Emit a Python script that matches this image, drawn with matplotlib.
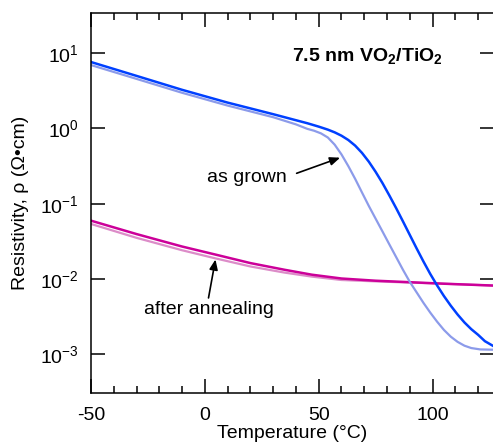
import matplotlib
matplotlib.use('Agg')
import matplotlib.pyplot as plt
from matplotlib.ticker import MultipleLocator, NullLocator, LogLocator

plt.rcParams['font.family'] = ['Liberation Sans', 'DejaVu Sans']
plt.rcParams['mathtext.fontset'] = 'custom'
plt.rcParams['mathtext.rm'] = 'Liberation Sans'
plt.rcParams['mathtext.bf'] = 'Liberation Sans:bold'
plt.rcParams['axes.unicode_minus'] = False
plt.rcParams['font.size'] = 14

# as grown, dark trace
grown_T = [-50, -30, -10, 10, 30, 45, 50, 54, 57, 60, 63, 66, 69, 72, 75, 78,
           81, 84, 87, 90, 93, 96, 99, 102, 105, 108, 111, 114, 117, 120,
           123, 127]
grown_rho = [7.66, 5.01, 3.27, 2.21, 1.55, 1.175, 1.059, 0.966, 0.889, 0.802,
             0.703, 0.592, 0.474, 0.362, 0.265, 0.188, 0.129, 0.0873, 0.0581,
             0.0384, 0.0254, 0.0170, 0.0116, 0.00817, 0.0059, 0.00439,
             0.00335, 0.00263, 0.00214, 0.0018, 0.00148, 0.00126]

# as grown, light trace
grown2_T = [-50, -30, -10, 10, 30, 40, 45, 48, 51, 54, 57, 60, 63, 66, 69,
            72, 75, 78, 81, 84, 87, 90, 93, 96, 99, 102, 105, 108, 111, 114,
            117, 121, 127]
grown2_rho = [6.98, 4.57, 2.985, 2.018, 1.413, 1.135, 0.989, 0.933, 0.861,
              0.759, 0.610, 0.452, 0.316, 0.214, 0.141, 0.0933, 0.0631,
              0.0427, 0.0288, 0.0195, 0.0132, 0.00912, 0.00661, 0.00479,
              0.00355, 0.00269, 0.00209, 0.0017, 0.00145, 0.00129, 0.0012,
              0.00115, 0.00114]

# after annealing, dark trace
anneal_T = [-50, -30, -10, 5, 20, 35, 47, 60, 75, 90, 105, 127]
anneal_rho = [0.0594, 0.0394, 0.0269, 0.0209, 0.0162, 0.0132, 0.01135,
              0.0101, 0.00944, 0.00902, 0.00861, 0.00813]

# after annealing, light trace
anneal2_T = [-50, -30, -10, 5, 20, 35, 47, 60, 75, 90, 105, 127]
anneal2_rho = [0.0537, 0.0351, 0.024, 0.0186, 0.0146, 0.0121, 0.0107,
               0.00965, 0.00925, 0.00891, 0.00861, 0.00813]

fig = plt.figure(figsize=(4.93, 4.45), dpi=100)
ax = fig.add_axes([0.1846, 0.1169, 0.8175, 0.8539])

ax.plot(anneal2_T, anneal2_rho, color='#dc8cc8', lw=1.6)
ax.plot(anneal_T, anneal_rho, color='#cc0099', lw=1.8)
ax.plot(grown2_T, grown2_rho, color='#8c9bea', lw=1.6)
ax.plot(grown_T, grown_rho, color='#0040ff', lw=1.8)

ax.set_yscale('log')
ax.set_xlim(-50, 127)
ax.set_ylim(3.03e-4, 34.4)

ax.xaxis.set_major_locator(MultipleLocator(50))
ax.xaxis.set_minor_locator(MultipleLocator(10))
ax.yaxis.set_major_locator(LogLocator(base=10, numticks=10))
ax.yaxis.set_minor_locator(NullLocator())
ax.tick_params(which='both', direction='in', top=True, right=True, width=1.1)
ax.tick_params(axis='x', pad=10)
ax.tick_params(axis='y', pad=9)
ax.tick_params(which='major', length=10)
ax.tick_params(which='minor', length=5)
for s in ax.spines.values():
    s.set_linewidth(1.1)

ax.set_xlabel('Temperature (°C)', labelpad=1)
ax.set_ylabel('Resistivity, ρ (Ω•cm)', labelpad=8)

ax.text(0.685, 0.872, r'7.5 nm VO$_\mathbf{2}$/TiO$_\mathbf{2}$', fontweight='bold',
        transform=ax.transAxes, ha='center', va='baseline')

arrow = dict(arrowstyle='-|>,head_length=0.6,head_width=0.25', color='black',
             lw=1.2, mutation_scale=10, shrinkA=0, shrinkB=0)
ax.text(36.1, 0.22, 'as grown', ha='right', va='center')
ax.annotate('', xy=(59.4, 0.409), xytext=(40.3, 0.2535), arrowprops=arrow)
ax.text(1.8, 3.86e-3, 'after annealing', ha='center', va='center')
ax.annotate('', xy=(4.66, 0.0181), xytext=(1.6, 5.57e-3), arrowprops=arrow)

fig.savefig('out.png', dpi=100)
